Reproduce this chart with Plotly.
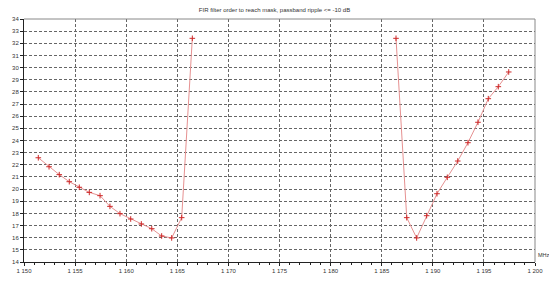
import plotly.graph_objects as go

# Left band (lower edge)
freq_low = [1151.4, 1152.45, 1153.45, 1154.43, 1155.41, 1156.39, 1157.44, 1158.41,
            1159.39, 1160.44, 1161.48, 1162.5, 1163.47, 1164.45, 1165.43, 1166.47]
order_low = [22.58, 21.84, 21.19, 20.61, 20.15, 19.73, 19.46, 18.58,
             17.98, 17.54, 17.13, 16.74, 16.14, 15.98, 17.65, 32.41]

# Right band (upper edge)
freq_high = [1186.4, 1187.45, 1188.42, 1189.4, 1190.41, 1191.42, 1192.44, 1193.44,
             1194.42, 1195.43, 1196.41, 1197.43]
order_high = [32.41, 17.65, 15.98, 17.81, 19.62, 20.97, 22.31, 23.82,
              25.5, 27.44, 28.43, 29.64]

x_ticks = list(range(1150, 1201, 5))
x_labels = [f"1 {v - 1000:03d}" for v in x_ticks]
y_ticks = list(range(14, 35))

line_col = "rgb(230,145,145)"
mark_col = "rgb(205,40,40)"

fig = go.Figure()
for xs, ys in [(freq_low, order_low), (freq_high, order_high)]:
    fig.add_trace(go.Scatter(
        x=xs, y=ys, mode="lines+markers",
        line=dict(color=line_col, width=1),
        marker=dict(symbol="cross-thin", size=4, color=mark_col,
                    line=dict(color=mark_col, width=1)),
        showlegend=False, hoverinfo="skip"))

fig.update_layout(
    width=549, height=281,
    margin=dict(l=24, r=14, t=19, b=19, autoexpand=False),
    paper_bgcolor="white", plot_bgcolor="white",
    font=dict(family="Liberation Sans, Arial, sans-serif", size=7, color="#333"),
    title=dict(text="FIR filter order to reach mask, passband ripple <= -10 dB",
               x=0.5, xanchor="center", y=0.965, yanchor="middle",
               font=dict(size=6, color="#333")),
    showlegend=False,
)

fig.update_xaxes(
    range=[1150, 1200], tickvals=x_ticks, ticktext=x_labels, automargin=False,
    showgrid=True, gridcolor="#666", griddash="3px,2px", gridwidth=1,
    showline=True, linecolor="#222", linewidth=1, mirror=False,
    ticks="outside", ticklen=3, tickcolor="#222",
    minor=dict(dtick=1, ticks="outside", ticklen=2, tickcolor="#222", showgrid=False),
    tickfont=dict(size=6), zeroline=False,
)
fig.update_yaxes(
    range=[14, 34], tickvals=y_ticks, automargin=False,
    showgrid=True, gridcolor="#666", griddash="3px,2px", gridwidth=1,
    showline=True, linecolor="#222", linewidth=1,
    ticks="outside", ticklen=3, tickcolor="#222",
    tickfont=dict(size=6), zeroline=False,
)

# top and right frame lines
fig.add_shape(type="line", xref="paper", yref="paper", x0=0, x1=1, y0=1, y1=1,
              line=dict(color="#888", width=1))
fig.add_shape(type="line", xref="paper", yref="paper", x0=1, x1=1, y0=0, y1=1,
              line=dict(color="#888", width=1))

fig.add_annotation(text="MHz", xref="paper", yref="paper", x=1.002, y=0.01,
                   xanchor="left", yanchor="bottom", showarrow=False,
                   font=dict(size=5.5, color="#333"))

fig.write_html("out.html", config={"displayModeBar": False, "staticPlot": True},
               post_script="document.body.style.margin='0px';document.body.style.overflow='hidden';")
